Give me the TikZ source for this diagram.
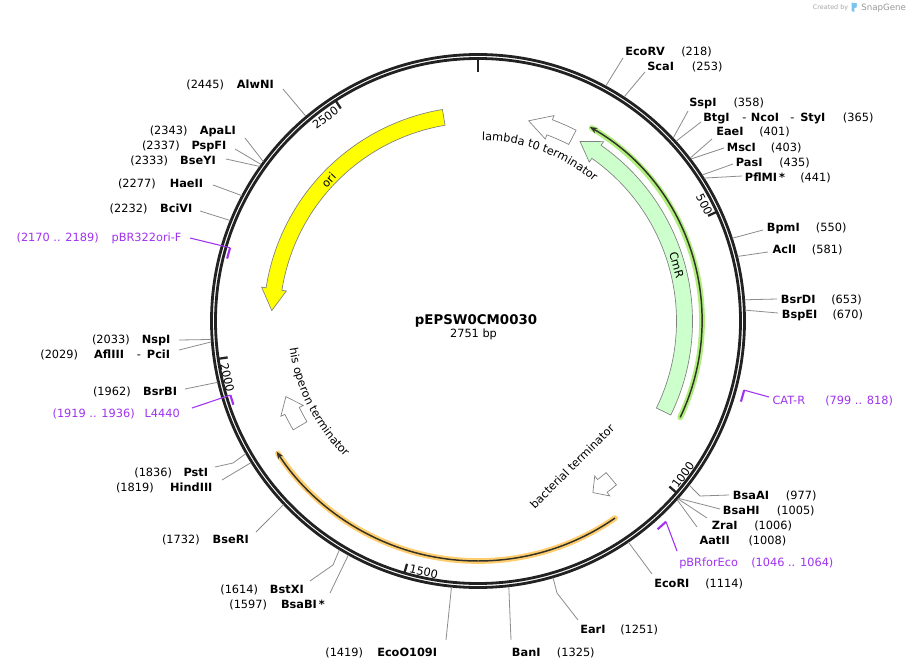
\documentclass[tikz,border=0pt]{standalone}
\usepackage{fontspec}
\setmainfont{DejaVu Sans}
\usetikzlibrary{arrows.meta,decorations.text}
\definecolor{ringc}{RGB}{34,34,34}
\definecolor{enzc}{RGB}{140,140,140}
\definecolor{primc}{RGB}{160,50,240}
\definecolor{orifill}{RGB}{255,255,0}
\definecolor{cmrfill}{RGB}{204,255,204}
\definecolor{featedge}{RGB}{128,128,128}
\definecolor{halogreen}{RGB}{175,238,125}
\definecolor{haloorange}{RGB}{255,205,110}
\definecolor{orfline}{RGB}{50,50,40}
\definecolor{logoblue}{RGB}{120,195,240}
\newcommand\labf{\fontsize{8.5}{10}\selectfont}
\newcommand\enzsite[2]{\coordinate (s#1) at ({90-0.1308615*#2}:267.5);}
\newcommand\enzcut[3]{\coordinate (e#1) at (#2,-#3);\draw[enzline] (s#1) -- (e#1);}
\newcommand\enzcutk[5]{\coordinate (k#1) at (#2,-#3);\coordinate (e#1) at (#4,-#5);\draw[enzline] (s#1) -- (k#1) -- (e#1);}
\newcommand\rsite[6]{\node[enzname,anchor=base west] (n#1) at (#4,-#6) {#2};\node[enznum,anchor=base west] (m#1) at (#5,-#6) {#3};}
\newcommand\lsite[6]{\node[enzname,anchor=base east] (n#1) at (#4,-#6) {#2};\node[enznum,anchor=base east] (m#1) at (#5,-#6) {#3};}
\newcommand\blockarrow[4]{\draw[#1] (#2:214.5) arc[start angle=#2,end angle=#3,radius=214.5] -- (#3:219) -- (#4:206.5) -- (#3:194) -- (#3:198.5) arc[start angle=#3,end angle=#2,radius=198.5] -- cycle;}
\tikzset{
  enzname/.style={font=\labf\bfseries, inner sep=0pt},
  enznum/.style={font=\labf, inner sep=0pt},
  primlab/.style={font=\labf, text=primc, inner sep=0pt},
  enzline/.style={draw=enzc, line width=0.6pt},
  primline/.style={draw=primc, line width=0.8pt},
  primmark/.style={draw=primc, line width=1.6pt},
  feat/.style={draw=featedge, line width=0.5pt},
  ticklab/.style={font=\fontsize{8.5}{9}\selectfont, inner sep=0pt},
  featlab/.style={font=\labf, inner sep=0pt},
}
\begin{document}
\begin{tikzpicture}[x=0.75pt,y=0.75pt]
\fill[white] (0,0) rectangle (910,-670);
\useasboundingbox (0,0) rectangle (910,-670);

% backbone ring
\coordinate (c) at (478,-321);
\draw[ringc, line width=2.1pt] (c) circle[radius=266.5];
\draw[ringc, line width=2.1pt] (c) circle[radius=262.5];

\begin{scope}[shift={(478,-321)}]
  % ticks
  \draw[ringc, line width=2.2pt] (90:262) -- (90:248.5);
  \foreach \q in {500,1000,1500,2000,2500}
    \draw[ringc, line width=1.7pt] ({90-0.1308615*\q}:262) -- ({90-0.1308615*\q}:253);
  \node[ticklab, rotate=-62.8] (t500) at (27.2:254.5) {500};
  \node[ticklab, rotate=53.1] (t1000) at (-36.9:256.4) {1000};
  \node[ticklab, rotate=-12.2] (t1500) at (-102.2:256.5) {1500};
  \node[ticklab, rotate=-77.3] (t2000) at (192.7:257) {2000};
  \node[ticklab, rotate=36.9] (t2500) at (126.9:254) {2500};

  % ORFs
  \draw[haloorange, line width=4.3pt, line cap=round] (-55.2:240) arc[start angle=-55.2, end angle=-146.5, radius=240];
  \draw[orfline, line width=1.1pt, -{Stealth[length=5.5pt,width=4.5pt]}] (-55.2:240) arc[start angle=-55.2, end angle=-147, radius=240];
  \draw[halogreen, line width=4.3pt, line cap=round] (-25.5:224) arc[start angle=-25.5, end angle=59.5, radius=224];
  \draw[orfline, line width=1.1pt, -{Stealth[length=5.5pt,width=4.5pt]}] (-25.5:224) arc[start angle=-25.5, end angle=60, radius=224];

  % features
  \blockarrow{feat, fill=orifill}{99.55}{171.1}{177.1}
  \blockarrow{feat, fill=cmrfill}{-26}{55}{60.4}
  \blockarrow{feat, fill=white}{62.8}{69.7}{75.8}
  \blockarrow{feat, fill=white}{210.5}{205.8}{201.5}
  \blockarrow{feat, fill=white}{-49.8}{-53}{-56.2}
  \node[featlab, rotate=46.6] (lori) at (136.6:205.5) {ori};
  \node[featlab, rotate=-74.3] (lcmr) at (15.7:206.4) {CmR};
  \path[decorate, decoration={text along path, text={|\labf|lambda t0 terminator}, text align=center}]
    (99.5:181) arc[start angle=99.5, end angle=39.5, radius=181];
  \path[decorate, decoration={text along path, text={|\labf|his operon terminator}, text align=center}]
    (177:190.5) arc[start angle=177, end angle=237, radius=190.5];

  % primer marks
  \draw[primmark] (-14.56:275) arc[start angle=-14.56, end angle=-17.05, radius=275];
  \coordinate (pCATR) at (-14.56:275);
  \draw[primmark] (-46.88:275) arc[start angle=-46.88, end angle=-49.24, radius=275];
  \coordinate (pEco) at (-46.88:275);
  \draw[primmark] (-161.12:258.5) arc[start angle=-161.12, end angle=-163.35, radius=258.5];
  \coordinate (pL4440) at (-163.35:258.5);
  \draw[primmark] (-193.97:258.5) arc[start angle=-193.97, end angle=-196.46, radius=258.5];
  \coordinate (pOriF) at (-196.46:258.5);

  % enzyme sites
  \enzsite{EcoRV}{218} \enzsite{ScaI}{253} \enzsite{SspI}{358} \enzsite{BtgI}{365}
  \enzsite{EaeI}{401} \enzsite{MscI}{403} \enzsite{PasI}{435} \enzsite{PflMI}{441}
  \enzsite{BpmI}{550} \enzsite{AclI}{581} \enzsite{BsrDI}{653} \enzsite{BspEI}{670}
  \enzsite{BsaAI}{977} \enzsite{BsaHI}{1005} \enzsite{ZraI}{1006} \enzsite{AatII}{1008}
  \enzsite{EcoRI}{1114} \enzsite{EarI}{1251} \enzsite{BanI}{1325} \enzsite{EcoO}{1419}
  \enzsite{BsaBI}{1597} \enzsite{BstXI}{1614} \enzsite{BseRI}{1732} \enzsite{HindIII}{1819}
  \enzsite{PstI}{1836} \enzsite{BsrBI}{1962} \enzsite{AflIII}{2029} \enzsite{NspI}{2033}
  \enzsite{BciVI}{2232} \enzsite{HaeII}{2277} \enzsite{BseYI}{2333} \enzsite{PspFI}{2337}
  \enzsite{ApaLI}{2343} \enzsite{AlwNI}{2445}
\end{scope}

\node[featlab, rotate=45] (lbact) at (572,-466) {bacterial terminator};

% centre title
\node[font=\fontsize{10}{12}\selectfont\bfseries, anchor=base, inner sep=0pt] (title) at (476,-325) {pEPSW0CM0030};
\node[font=\fontsize{8.5}{10}\selectfont, anchor=base, inner sep=0pt] (bp) at (473.5,-337) {2751 bp};

% connectors
\enzcut{EcoRV}{623}{58}
\enzcut{ScaI}{645}{72}
\enzcut{SspI}{688}{111}
\enzcut{BtgI}{701}{122}
\enzcut{EaeI}{712}{139}
\enzcut{MscI}{724}{148}
\enzcut{PasI}{733}{164}
\enzcut{PflMI}{742}{176}
\enzcut{BpmI}{763}{230}
\enzcut{AclI}{768}{252}
\enzcut{BsrDI}{777}{299}
\enzcut{BspEI}{778}{313}
\enzcutk{BsaAI}{700}{496}{729}{495}
\enzcut{BsaHI}{720}{509}
\enzcut{ZraI}{707}{518}
\enzcut{AatII}{697}{527}
\enzcut{EcoRI}{652}{574}
\enzcutk{EarI}{557}{593}{578}{620}
\enzcut{BanI}{511}{640}
\enzcut{EcoO}{446}{640}
\enzcut{BsaBI}{330}{593}
\enzcutk{BstXI}{333}{565}{310}{581}
\enzcut{BseRI}{256}{532}
\enzcut{HindIII}{222}{480}
\enzcutk{PstI}{233}{463}{215}{467}
\enzcut{BsrBI}{185}{389}
\enzcut{AflIII}{179}{350}
\enzcut{NspI}{179}{340}
\enzcut{BciVI}{200}{211}
\enzcut{HaeII}{213}{185}
\enzcut{BseYI}{226}{159}
\enzcut{PspFI}{235}{149}
\enzcut{ApaLI}{245}{138}
\enzcut{AlwNI}{283}{89}

% right-side labels
\rsite{EcoRV}{EcoRV}{(218)}{625}{681}{55.5}
\rsite{ScaI}{ScaI}{(253)}{647}{691.7}{70.7}
\rsite{SspI}{SspI}{(358)}{689}{733.3}{106.5}
\node[enzname, anchor=base west] (nBtgI) at (703,-122) {BtgI};
\node[enznum, anchor=base west] (d1BtgI) at (742,-122) {-};
\node[enzname, anchor=base west] (nNcoI) at (750.7,-122) {NcoI};
\node[enznum, anchor=base west] (d2BtgI) at (790,-122) {-};
\node[enzname, anchor=base west] (nStyI) at (800,-122) {StyI};
\node[enznum, anchor=base west] (mBtgI) at (842.7,-122) {(365)};
\rsite{EaeI}{EaeI}{(401)}{716}{759}{136}
\rsite{MscI}{MscI}{(403)}{726.7}{770.7}{151.5}
\rsite{PasI}{PasI}{(435)}{735.7}{779}{166.5}
\rsite{PflMI}{PflMI\,*}{(441)}{744.7}{800}{181.5}
\rsite{BpmI}{BpmI}{(550)}{766.7}{815.7}{232}
\rsite{AclI}{AclI}{(581)}{772.3}{811.7}{254}
\rsite{BsrDI}{BsrDI}{(653)}{780.7}{831}{303}
\rsite{BspEI}{BspEI}{(670)}{781.7}{832.3}{318}
\rsite{BsaAI}{BsaAI}{(977)}{732.7}{785.7}{499}
\rsite{BsaHI}{BsaHI}{(1005)}{722.7}{776.7}{514}
\rsite{ZraI}{ZraI}{(1006)}{711.7}{754}{529}
\rsite{AatII}{AatII}{(1008)}{699.3}{748.3}{544}
\rsite{EcoRI}{EcoRI}{(1114)}{654}{705}{587}
\rsite{EarI}{EarI}{(1251)}{580}{620}{633.5}
\rsite{BanI}{BanI}{(1325)}{511.7}{556.7}{656}

% left-side labels
\lsite{EcoO}{EcoO109I}{(1419)}{437.3}{363.3}{656}
\lsite{BsaBI}{BsaBI\,*}{(1597)}{325}{267.3}{608}
\lsite{BstXI}{BstXI}{(1614)}{304}{258.3}{593}
\lsite{BseRI}{BseRI}{(1732)}{249}{200}{543.7}
\lsite{HindIII}{HindIII}{(1819)}{212.7}{154}{491}
\lsite{PstI}{PstI}{(1836)}{208.3}{172.3}{476}
\lsite{BsrBI}{BsrBI}{(1962)}{177.3}{131}{395.7}
\lsite{AflIII}{AflIII}{(2029)}{124.3}{78.3}{358}
\node[enznum, anchor=base west] (dPciI) at (136.7,-358) {-};
\node[enzname, anchor=base west] (nPciI) at (146.7,-358) {PciI};
\lsite{NspI}{NspI}{(2033)}{170.7}{130}{343}
\lsite{BciVI}{BciVI}{(2232)}{192.7}{147.7}{212.3}
\lsite{HaeII}{HaeII}{(2277)}{203.3}{156}{187.3}
\lsite{BseYI}{BseYI}{(2333)}{216}{168.3}{164.7}
\lsite{PspFI}{PspFI}{(2337)}{226.7}{180}{150}
\lsite{ApaLI}{ApaLI}{(2343)}{236}{187.7}{135}
\lsite{AlwNI}{AlwNI}{(2445)}{274}{224.3}{88.3}

% primers
\coordinate (eCATR) at (769,-397);
\draw[primline] (pCATR) -- (eCATR);
\node[primlab, anchor=base west] (nCATR) at (772.3,-404.5) {CAT-R};
\node[primlab, anchor=base west] (mCATR) at (825,-404.5) {(799 .. 818)};
\coordinate (eEco) at (677,-551);
\draw[primline] (pEco) -- (eEco);
\node[primlab, anchor=base west] (nEco) at (679,-566) {pBRforEco};
\node[primlab, anchor=base west] (mEco) at (751,-566) {(1046 .. 1064)};
\coordinate (eL4440) at (192,-408);
\draw[primline] (pL4440) -- (eL4440);
\node[primlab, anchor=base east] (nL4440) at (180,-417.5) {L4440};
\node[primlab, anchor=base east] (mL4440) at (135,-417.5) {(1919 .. 1936)};
\coordinate (eOriF) at (190,-238);
\draw[primline] (pOriF) -- (eOriF);
\node[primlab, anchor=base east] (nOriF) at (181.7,-241.5) {pBR322ori-F};
\node[primlab, anchor=base east] (mOriF) at (99,-241.5) {(2170 .. 2189)};

% watermark
\node[font=\fontsize{4.8}{5}\selectfont, text=black!35, anchor=base west, inner sep=0pt] (wm1) at (812.7,-9.5) {Created by};
\fill[logoblue] (851.5,-2.5) -- (857,-3.5) -- (856.5,-7.5) -- (854.3,-8) -- (854.3,-12) -- (851.5,-11) -- cycle;
\node[font=\fontsize{6.5}{7}\selectfont, text=black!40, anchor=base west, inner sep=0pt] (wm2) at (861,-10.5) {SnapGene};
\end{tikzpicture}
\end{document}
